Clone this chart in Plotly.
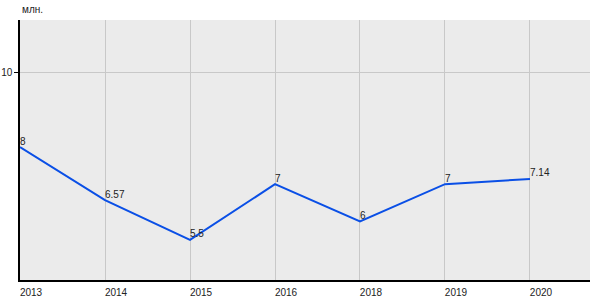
import plotly.graph_objects as go

years = ["2013", "2014", "2015", "2016", "2018", "2019", "2020"]
values = [8, 6.57, 5.5, 7, 6, 7, 7.14]
labels = ["8", "6.57", "5.5", "7", "6", "7", "7.14"]
y_ticks = [10]
unit = "млн."

fig = go.Figure()
fig.add_trace(go.Scatter(
    x=list(range(len(years))), y=values, mode="lines+text",
    text=labels, textposition="top right",
    textfont=dict(family="Liberation Sans, Arial", size=10, color="#222222"),
    line=dict(color="#0a4fe6", width=2),
    cliponaxis=False, hoverinfo="skip",
))

fig.update_layout(
    width=600, height=300,
    margin=dict(l=20, r=10, t=20, b=20, autoexpand=False),
    paper_bgcolor="white", plot_bgcolor="#ebebeb",
    showlegend=False,
    font=dict(family="Liberation Sans, Arial", size=10, color="#222222"),
    annotations=[dict(text=unit, x=0, xref="paper", y=1, yref="paper",
                      xanchor="left", yanchor="bottom", yshift=3,
                      showarrow=False,
                      font=dict(family="Liberation Sans, Arial", size=10, color="#222222"))],
)
fig.update_xaxes(
    range=[0, 6.706], tickmode="array", tickvals=list(range(len(years))), ticktext=years,
    showgrid=True, gridcolor="#c8c8c8", gridwidth=1,
    showline=True, linecolor="black", linewidth=1.5,
    ticks="", ticklabelshift=11, ticklabelstandoff=2,
    zeroline=False, automargin=False,
)
fig.update_yaxes(
    range=[4.42, 11.42], tickmode="array", tickvals=y_ticks, ticktext=[str(t) for t in y_ticks],
    showgrid=True, gridcolor="#c8c8c8", gridwidth=1,
    showline=True, linecolor="black", linewidth=1.5,
    ticks="outside", ticklen=4, tickcolor="black",
    zeroline=False, automargin=False,
)
fig.write_html("out.html")
